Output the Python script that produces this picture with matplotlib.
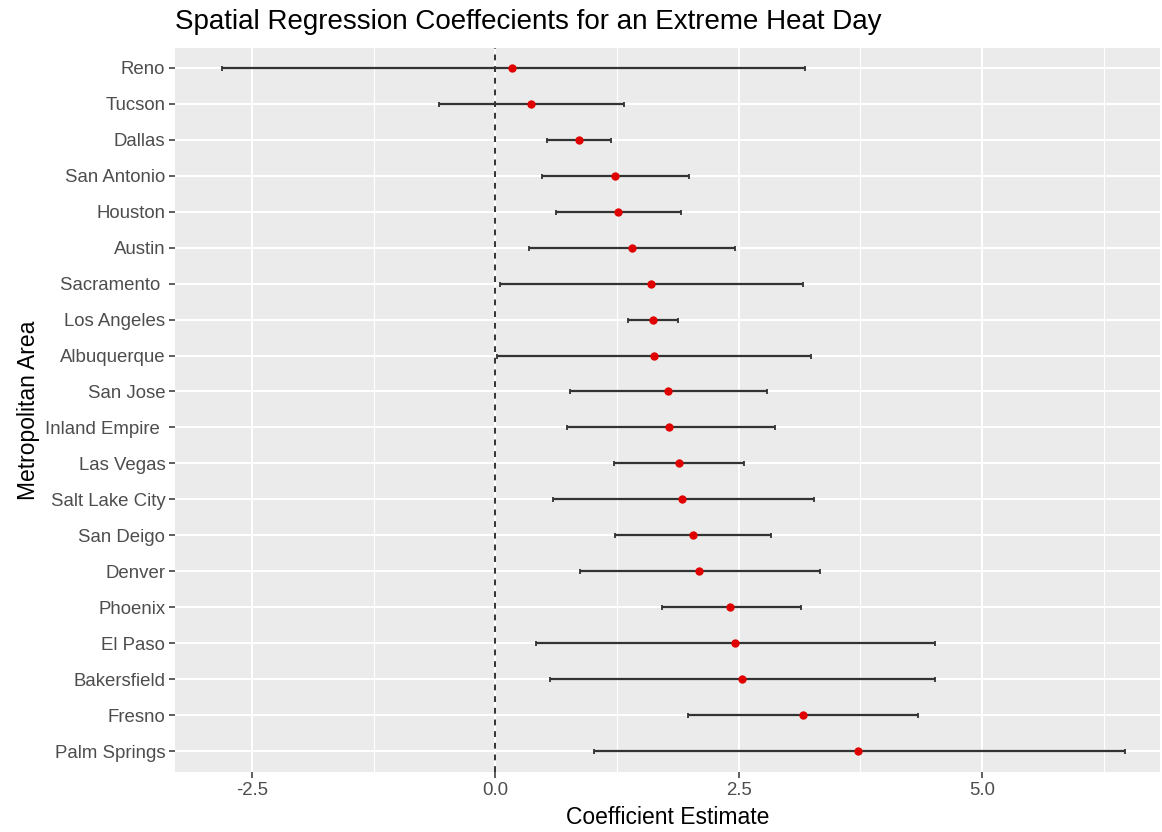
import matplotlib

matplotlib.use("Agg")
import matplotlib.pyplot as plt  # noqa: E402
from matplotlib.ticker import FixedLocator  # noqa: E402

plt.rcParams["font.family"] = ["Liberation Sans", "DejaVu Sans"]

# Top to bottom, as in the chart
cities = [
    "Reno", "Tucson", "Dallas", "San Antonio", "Houston", "Austin",
    "Sacramento ", "Los Angeles", "Albuquerque", "San Jose", "Inland Empire ",
    "Las Vegas", "Salt Lake City", "San Deigo", "Denver", "Phoenix",
    "El Paso", "Bakersfield", "Fresno", "Palm Springs",
]
estimate = [
    0.175, 0.367, 0.865, 1.235, 1.265, 1.41, 1.60, 1.62, 1.63, 1.775,
    1.79, 1.89, 1.92, 2.03, 2.095, 2.415, 2.465, 2.54, 3.165, 3.73,
]
lower = [
    -2.81, -0.575, 0.53, 0.48, 0.62, 0.35, 0.045, 1.36, 0.015, 0.77,
    0.735, 1.22, 0.59, 1.235, 0.87, 1.71, 0.415, 0.56, 1.985, 1.01,
]
upper = [
    3.18, 1.32, 1.19, 1.99, 1.91, 2.46, 3.16, 1.88, 3.24, 2.79,
    2.87, 2.56, 3.27, 2.83, 3.335, 3.14, 4.515, 4.515, 4.34, 6.47,
]

n = len(cities)
ypos = [n - 1 - i for i in range(n)]

fig = plt.figure(figsize=(11.62, 8.32), dpi=100)
ax = fig.add_axes([0.1506, 0.0721, 0.8477, 0.8702])
ax.set_facecolor("#EBEBEB")
for s in ax.spines.values():
    s.set_visible(False)

xerr = [[e - lo for e, lo in zip(estimate, lower)],
        [hi - e for e, hi in zip(estimate, upper)]]
ax.errorbar(estimate, ypos, xerr=xerr, fmt="none", ecolor="#333333",
            elinewidth=1.6, capsize=1.8, capthick=1.3, zorder=3)
ax.scatter(estimate, ypos, color="#E00000", s=36, zorder=4, linewidths=0)
ax.axvline(0, color="#333333", linestyle=(0, (3, 3)), linewidth=1.4, zorder=2)

ax.set_xlim(-3.29, 6.83)
ax.set_ylim(-0.58, n - 1 + 0.55)
ax.set_xticks([-2.5, 0.0, 2.5, 5.0])
ax.set_xticklabels(["-2.5", "0.0", "2.5", "5.0"])
ax.xaxis.set_minor_locator(FixedLocator([-1.25, 1.25, 3.75, 6.25]))
ax.set_yticks(ypos)
ax.set_yticklabels(cities)

ax.grid(which="major", color="white", linewidth=1.5, zorder=0)
ax.grid(which="minor", axis="x", color="white", linewidth=0.8, zorder=0)
ax.set_axisbelow(True)
ax.tick_params(which="major", length=4, width=1.1, color="#333333",
               labelcolor="#4D4D4D", labelsize=13.4, pad=3)
ax.tick_params(which="minor", length=0)

ax.set_xlabel("Coefficient Estimate", fontsize=16.5, color="black", labelpad=5)
ax.set_ylabel("Metropolitan Area", fontsize=16.5, color="black", labelpad=4)
ax.set_title("Spatial Regression Coeffecients for an Extreme Heat Day",
             fontsize=20, loc="left", pad=14)

fig.savefig("out.png", dpi=100)
